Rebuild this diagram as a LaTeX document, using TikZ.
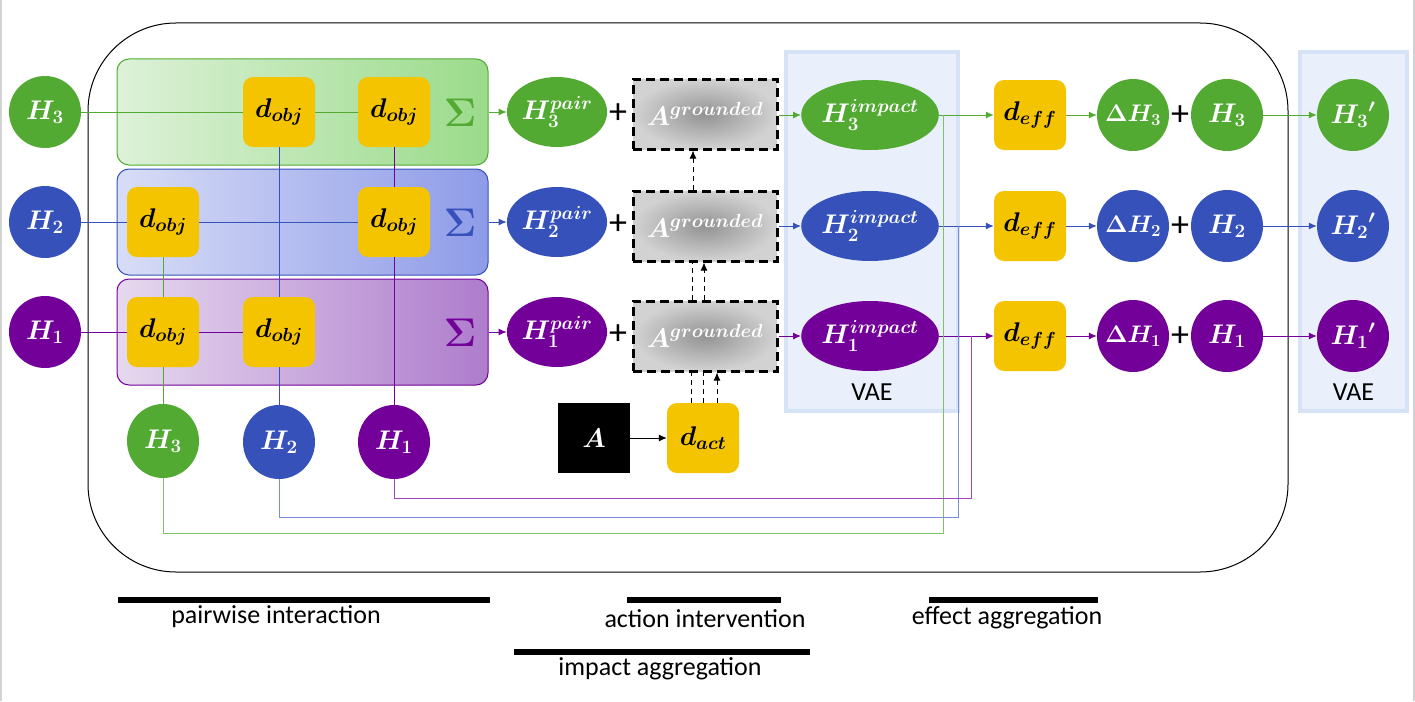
\RequirePackage{fix-cm}
\documentclass[tikz,border=0pt]{standalone}
\usepackage{fontspec}
\setmainfont{Carlito}
\usetikzlibrary{shapes.geometric,arrows.meta,calc}
\definecolor{grn}{HTML}{52AA33}
\definecolor{blu}{HTML}{3652BA}
\definecolor{pur}{HTML}{720099}
\definecolor{yel}{HTML}{F5C400}
\definecolor{vaef}{HTML}{E9F0FB}
\definecolor{vaeb}{HTML}{D6E2F5}
\definecolor{grnL}{HTML}{7DC266}
\definecolor{bluL}{HTML}{7A8DDA}
\definecolor{purL}{HTML}{9A45BD}
\definecolor{grnbgA}{HTML}{DDF1D8}
\definecolor{grnbgB}{HTML}{9BDB8B}
\definecolor{blubgA}{HTML}{D8DDF6}
\definecolor{blubgB}{HTML}{8E9BE8}
\definecolor{purbgA}{HTML}{E6D9EE}
\definecolor{purbgB}{HTML}{AE7CCC}
\begin{document}
\begin{tikzpicture}[x=1pt,y=-1pt,
  mfont/.style={font=\fontsize{27}{31}\selectfont\boldmath},
  sfont/.style={font=\fontsize{24}{28}\selectfont\boldmath},
  hcirc/.style={circle,minimum size=72pt,inner sep=0pt,fill=#1,text=white,mfont},
  hell/.style={ellipse,minimum width=#1,minimum height=70pt,inner sep=0pt,text=white,mfont},
  ybox/.style={rectangle,rounded corners=10pt,fill=yel,minimum width=72pt,minimum height=70pt,inner sep=0pt,mfont},
  grp/.style={rectangle,rounded corners=12pt,minimum width=371pt,minimum height=106pt,line width=1pt},
  agr/.style={rectangle,minimum width=144pt,minimum height=70pt,inner sep=0pt,draw=black,line width=3pt,dash pattern=on 9pt off 5pt,inner color=gray!85,outer color=gray!35,text=white,mfont},
  vae/.style={rectangle,fill=vaef,draw=vaeb,line width=4pt,inner sep=0pt},
  sig/.style={text=#1,font=\fontsize{40}{44}\selectfont\boldmath},
  plus/.style={font=\fontsize{36}{38}\selectfont},
  lbl/.style={font=\fontsize{26}{30}\selectfont},
  arr/.style={line width=1pt,-{Latex[length=8pt,width=7pt]}},
  ln/.style={line width=1pt},
  dsh/.style={line width=1pt,dash pattern=on 5pt off 4pt},
  bar/.style={line width=6.5pt}
]
\useasboundingbox (0,0) rectangle (1415,701);
\draw[gray!35,line width=2pt] (1,0) -- (1,701) (1414,0) -- (1414,701);
% outer frame
\draw[black,line width=1pt,rounded corners=88pt] (88,23) rectangle (1288,572);
% VAE panels
\node[vae,minimum width=172pt,minimum height=359pt] (vae1) at (872,231.5) {};
\node[lbl] (vaet1) at (872,392) {VAE};
\node[vae,minimum width=107pt,minimum height=359pt] (vae2) at (1353.5,231.5) {};
\node[lbl] (vaet2) at (1353.5,392) {VAE};
% groups
\node[grp,draw=grn,left color=grnbgA,right color=grnbgB] (gg) at (302.5,112) {};
\node[grp,draw=blu,left color=blubgA,right color=blubgB] (gb) at (302.5,222) {};
\node[grp,draw=pur,left color=purbgA,right color=purbgB] (gp) at (302.5,332) {};
\node[sig=grn] (sg) at (460,113) {$\Sigma$};
\node[sig=blu] (sb) at (460,223) {$\Sigma$};
\node[sig=pur] (sp) at (460,333) {$\Sigma$};
% left inputs
\node[hcirc=grn] (h3) at (45,112) {$H_3$};
\node[hcirc=blu] (h2) at (45,222) {$H_2$};
\node[hcirc=pur] (h1) at (45,332) {$H_1$};
% d_obj boxes
\node[ybox] (dg2) at (279,112) {$d_{obj}$};
\node[ybox] (dg3) at (394,112) {$d_{obj}$};
\node[ybox] (db1) at (163,222) {$d_{obj}$};
\node[ybox] (db3) at (394,222) {$d_{obj}$};
\node[ybox] (dp1) at (163,332) {$d_{obj}$};
\node[ybox] (dp2) at (279,332) {$d_{obj}$};
% bottom inputs
\node[hell=72pt,fill=grn,minimum height=74pt] (bh3) at (163,441) {$H_3$};
\node[hell=72pt,fill=blu,minimum height=74pt] (bh2) at (279,442) {$H_2$};
\node[hell=72pt,fill=pur,minimum height=74pt] (bh1) at (394,442) {$H_1$};
% row lines in groups
\draw[ln,grn] (h3) -- (dg2);
\draw[ln,grn] (dg2) -- (dg3);
\draw[ln,blu] (h2) -- (db1);
\draw[ln,blu] (db1) -- (db3);
\draw[ln,pur] (h1) -- (dp1);
\draw[ln,pur] (dp1) -- (dp2);
% verticals
\draw[ln,grn] (db1) -- (dp1);
\draw[ln,grn] (dp1) -- (bh3);
\draw[ln,blu] (dg2) -- (dp2);
\draw[ln,blu] (dp2) -- (bh2);
\draw[ln,pur] (dg3) -- (db3);
\draw[ln,pur] (db3) -- (bh1);
% pair nodes
\node[hell=92pt,fill=grn] (p3) at (557,112) {$H_3^{pair}$};
\node[hell=92pt,fill=blu] (p2) at (557,222) {$H_2^{pair}$};
\node[hell=92pt,fill=pur] (p1) at (557,332) {$H_1^{pair}$};
\draw[arr,grn] (gg.east |- p3) -- (p3);
\draw[arr,blu] (gb.east |- p2) -- (p2);
\draw[arr,pur] (gp.east |- p1) -- (p1);
\node[plus] (pl3) at (618,114) {+};
\node[plus] (pl2) at (618,225) {+};
\node[plus] (pl1) at (618,335) {+};
% grounded action boxes
\node[agr] (ag3) at (705,114) {$A^{grounded}$};
\node[agr] (ag2) at (705,226) {$A^{grounded}$};
\node[agr] (ag1) at (705,336) {$A^{grounded}$};
% action
\node[rectangle,fill=black,minimum width=72pt,minimum height=70pt,text=white,mfont] (abox) at (594,438) {$A$};
\node[ybox] (dact) at (703,438) {$d_{act}$};
\draw[arr,black] (abox) -- (dact);
\draw[dsh,-{Latex[length=8pt,width=7pt]}] ($(ag2.north)+(-12,0)$) -- ($(ag3.south)+(-12,0)$);
\draw[dsh] ($(ag1.north)+(-13,0)$) -- ($(ag2.south)+(-13,0)$);
\draw[dsh,-{Latex[length=8pt,width=7pt]}] ($(ag1.north)+(-1,0)$) -- ($(ag2.south)+(-1,0)$);
\draw[dsh] ($(dact.north)+(-12,0)$) -- ($(ag1.south)+(-14,0)$);
\draw[dsh] ($(dact.north)+(0,0)$) -- ($(ag1.south)+(-2,0)$);
\draw[dsh,-{Latex[length=8pt,width=7pt]}] ($(dact.north)+(14,0)$) -- ($(ag1.south)+(12,0)$);
% impact
\node[hell=119pt,fill=grn] (im3) at (870,115) {$H_3^{impact}$};
\node[hell=119pt,fill=blu] (im2) at (870,226) {$H_2^{impact}$};
\node[hell=119pt,fill=pur] (im1) at (870,336) {$H_1^{impact}$};
\draw[arr,grn] (ag3.east |- im3) -- (im3);
\draw[arr,blu] (ag2) -- (im2);
\draw[arr,pur] (ag1) -- (im1);
% effect
\node[ybox] (de3) at (1030,115) {$d_{eff}$};
\node[ybox] (de2) at (1030,226) {$d_{eff}$};
\node[ybox] (de1) at (1030,336) {$d_{eff}$};
\draw[arr,grn] (im3) -- (de3);
\draw[arr,blu] (im2) -- (de2);
\draw[arr,pur] (im1) -- (de1);
% routing from bottom inputs
\coordinate (r3) at (943,533);
\coordinate (r2) at (958,517);
\coordinate (r1) at (971,498);
\draw[ln,grnL] (bh3.south) |- (r3) -- (r3 |- im3.east);
\draw[ln,bluL] (bh2.south) |- (r2) -- (r2 |- im2.east);
\draw[ln,purL] (bh1.south) |- (r1) -- (r1 |- im1.east);
% delta and sums
\node[hcirc=grn,sfont] (dh3) at (1133,115) {$\Delta H_3$};
\node[hcirc=blu,sfont] (dh2) at (1133,226) {$\Delta H_2$};
\node[hcirc=pur,sfont] (dh1) at (1133,336) {$\Delta H_1$};
\draw[arr,grn] (de3) -- (dh3);
\draw[arr,blu] (de2) -- (dh2);
\draw[arr,pur] (de1) -- (dh1);
\node[plus] (q3) at (1180,116) {+};
\node[plus] (q2) at (1180,227) {+};
\node[plus] (q1) at (1180,337) {+};
\node[hcirc=grn] (rh3) at (1227,115) {$H_3$};
\node[hcirc=blu] (rh2) at (1227,226) {$H_2$};
\node[hcirc=pur] (rh1) at (1227,336) {$H_1$};
\node[hcirc=grn] (hp3) at (1353,115) {${H_3}'$};
\node[hcirc=blu] (hp2) at (1353,226) {${H_2}'$};
\node[hcirc=pur] (hp1) at (1353,336) {${H_1}'$};
\draw[arr,grn] (rh3) -- (hp3);
\draw[arr,blu] (rh2) -- (hp2);
\draw[arr,pur] (rh1) -- (hp1);
% stage labels
\draw[bar] (118,600) -- (490,600);
\node[lbl] (l1) at (276,617) {pairwise interaction};
\draw[bar] (627,600) -- (781,600);
\node[lbl] (l2) at (705,619) {action intervention};
\draw[bar] (514,652) -- (810,652);
\node[lbl] (l3) at (660,669) {impact aggregation};
\draw[bar] (929,600) -- (1098,600);
\node[lbl] (l4) at (1007,618) {effect aggregation};
\end{tikzpicture}
\end{document}
